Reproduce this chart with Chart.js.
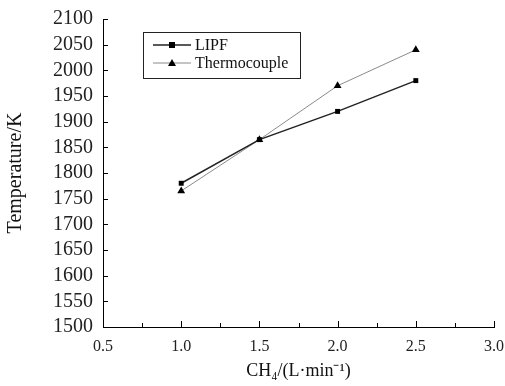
<!DOCTYPE html>
<html>
<head>
<meta charset="utf-8">
<script src="https://cdn.jsdelivr.net/npm/chart.js"></script>
<style>
  html, body { margin: 0; padding: 0; background: #fff; }
  #wrap { width: 505px; height: 386px; }
</style>
</head>
<body>
<div id="wrap"><canvas id="myChart"></canvas></div>
<script>
// data
let flow = [1.0, 1.5, 2.0, 2.5];
let lipf = [1780, 1865, 1920, 1980];
let thermo = [1765, 1865, 1970, 2040];
let seriesNames = ['LIPF', 'Thermocouple'];

let serif = '"Liberation Serif", "Times New Roman", serif';

// ticks pointing into the plot, and the boxed legend
let inTicks = {
	id: 'inTicks',
	afterDraw(chart) {
		let c = chart.ctx;
		let xs = chart.scales.x, ys = chart.scales.y;
		let a = chart.chartArea;
		c.save();
		c.strokeStyle = '#000';
		c.lineWidth = 1;
		c.beginPath();
		for (let v = 0.5; v <= 3.0001; v += 0.25) {
			let px = Math.round(xs.getPixelForValue(v)) + 0.5;
			let len = (Math.round(v * 100) % 50 == 0) ? 6 : 4;
			c.moveTo(px, a.bottom);
			c.lineTo(px, a.bottom - len);
		}
		for (let v = 1500; v <= 2100; v += 50) {
			let py = Math.round(ys.getPixelForValue(v)) + 0.5;
			c.moveTo(a.left, py);
			c.lineTo(a.left + 5, py);
		}
		c.stroke();

		// legend
		let lx = 143, ly = 32, lw = 157, lh = 46;
		c.strokeStyle = '#222';
		c.strokeRect(lx + 0.5, ly + 0.5, lw, lh);
		c.font = '16px ' + serif;
		c.textBaseline = 'middle';
		chart.data.datasets.forEach((ds, i) => {
			let yy = ly + 13 + i * 18;
			c.strokeStyle = ds.borderColor;
			c.lineWidth = ds.borderWidth;
			c.beginPath();
			c.moveTo(153, yy);
			c.lineTo(191, yy);
			c.stroke();
			c.fillStyle = '#000';
			if (ds.pointStyle == 'rect') {
				c.fillRect(169, yy - 3, 6, 6);
			} else {
				c.beginPath();
				c.moveTo(172, yy - 4);
				c.lineTo(176, yy + 3);
				c.lineTo(168, yy + 3);
				c.closePath();
				c.fill();
			}
			c.fillStyle = '#111';
			c.fillText(ds.label, 195, yy + 1);
		});
		c.restore();
	}
};

let ctx = document.getElementById('myChart').getContext('2d');

let chart = new Chart(ctx, {
	type: 'line',
	data: {
		labels: flow,
		datasets: [{
			label: seriesNames[0],
			data: flow.map((x, i) => ({x: x, y: lipf[i]})),
			borderColor: '#222',
			borderWidth: 1.5,
			backgroundColor: '#000',
			pointStyle: 'rect',
			pointRadius: 3.5,
			pointBorderWidth: 0,
			lineTension: 0,
			fill: false
		}, {
			label: seriesNames[1],
			data: flow.map((x, i) => ({x: x, y: thermo[i]})),
			borderColor: '#8a8a8a',
			borderWidth: 1,
			backgroundColor: '#000',
			pointBackgroundColor: '#000',
			pointBorderColor: '#000',
			pointStyle: 'triangle',
			pointRadius: 4.5,
			pointBorderWidth: 0,
			lineTension: 0,
			fill: false
		}]
	},
	options: {
		responsive: true,
		maintainAspectRatio: false,
		animation: false,
		layout: { padding: { top: 19, right: 11, left: 0, bottom: 0 } },
		plugins: {
			legend: { display: false },
			tooltip: { enabled: false }
		},
		scales: {
			x: {
				type: 'linear',
				min: 0.5,
				max: 3.0,
				afterFit: (s) => { s.height = 59; s.paddingLeft = 0; s.paddingRight = 0; },
				grid: { display: false, drawTicks: false },
				border: { display: true, color: '#000', width: 1 },
				ticks: {
					stepSize: 0.5,
					padding: 10,
					color: '#222',
					font: { family: serif, size: 16 },
					callback: (v) => v.toFixed(1)
				},
				title: {
					display: true,
					text: 'CH₄/(L·min⁻¹)',
					color: '#111',
					font: { family: serif, size: 18 },
					padding: { top: 0, bottom: 4 }
				}
			},
			y: {
				min: 1500,
				max: 2100,
				afterFit: (s) => { s.width = 103; s.paddingTop = 0; s.paddingBottom = 0; },
				grid: { display: false, drawTicks: false },
				border: { display: true, color: '#000', width: 1 },
				ticks: {
					stepSize: 50,
					autoSkip: false,
					padding: 10,
					color: '#222',
					font: { family: serif, size: 20 },
					callback: (v) => String(v)
				},
				title: {
					display: true,
					text: 'Temperature/K',
					color: '#111',
					font: { family: serif, size: 20 },
					padding: { top: 4, bottom: 0 }
				}
			}
		}
	},
	plugins: [inTicks]
});
</script>
</body>
</html>
